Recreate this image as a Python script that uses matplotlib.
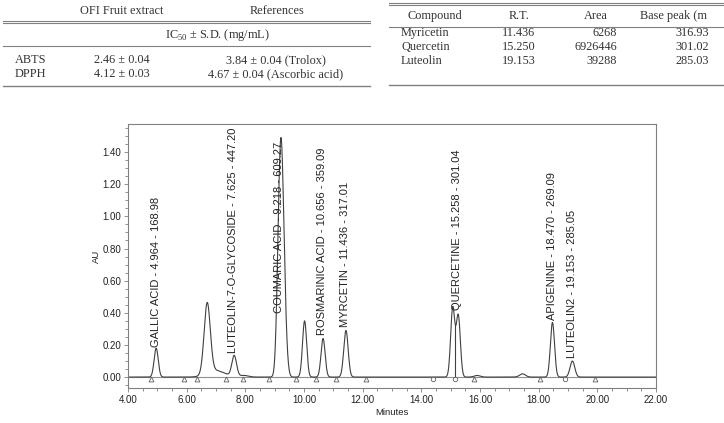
import numpy as np
import matplotlib.pyplot as plt
from matplotlib.ticker import MultipleLocator, FormatStrFormatter

plt.rcParams["mathtext.fontset"] = "custom"
plt.rcParams["mathtext.rm"] = "Liberation Serif"

# chromatogram peaks: retention time, height (AU), width (min)
PEAK_RT = [4.96, 6.70, 7.00, 7.62, 7.95, 9.12, 9.22, 9.34, 10.02, 10.65, 11.43,
           15.07, 15.26, 15.90, 17.45, 18.47, 19.15]
PEAK_H = [0.18, 0.44, 0.04, 0.13, 0.01, 0.30, 1.30, 0.25, 0.35, 0.24, 0.29,
          0.43, 0.38, 0.01, 0.02, 0.34, 0.10]
PEAK_W = [0.07, 0.105, 0.30, 0.08, 0.15, 0.07, 0.085, 0.08, 0.07, 0.07, 0.075,
          0.07, 0.07, 0.10, 0.10, 0.07, 0.08]

LABELS = ["GALLIC ACID - 4.964 - 168.98", "LUTEOLIN-7-O-GLYCOSIDE - 7.625 - 447.20",
          "COUMARIC ACID - 9.218 - 609.27", "ROSMARINIC ACID - 10.656 - 359.09",
          "MYRCETIN - 11.436 - 317.01", "QUERCETINE - 15.258 - 301.04",
          "APIGENINE - 18.470 - 269.09", "LUTEOLIN2 - 19.153 - 285.05"]
LABEL_X = [4.95, 7.58, 9.15, 10.60, 11.40, 15.23, 18.47, 19.15]
LABEL_Y = [0.19, 0.15, 0.40, 0.26, 0.31, 0.42, 0.355, 0.12]

TRI_X = [4.77, 5.92, 6.35, 7.34, 7.92, 8.81, 9.73, 10.41, 11.08, 12.10, 15.79, 18.06, 19.92]
CIRC_X = [14.39, 15.15, 18.90]
DROP_X = [15.16]

# antioxidant table
ASSAYS = ["ABTS", "DPPH"]
EXTRACT = ["2.46 \u00b1 0.04", "4.12 \u00b1 0.03"]
REFS = ["3.84 \u00b1 0.04 (Trolox)", "4.67 \u00b1 0.04 (Ascorbic acid)"]

# LC-MS table (last header is cut at the page edge in the source)
HEADERS = ["Compound", "R.T.", "Area", "Base peak (m"]
COMPOUNDS = ["Myricetin", "Quercetin", "Luteolin"]
RT = ["11.436", "15.250", "19.153"]
AREA = ["6268", "6926446", "39288"]
BASE = ["316.93", "301.02", "285.03"]

fig = plt.figure(figsize=(7.24, 4.23), dpi=100)

# tables drawn on a full-figure pixel canvas
bg = fig.add_axes([0, 0, 1, 1])
bg.set_xlim(0, 724)
bg.set_ylim(423, 0)
bg.axis("off")
serif = dict(family="Liberation Serif", fontsize=8.8, color="#333333", va="center")
lc = "#808080"
for y in (21, 23):
    bg.plot([3, 370], [y, y], color=lc, lw=0.8)
bg.plot([3, 370], [46, 46], color=lc, lw=0.8)
bg.plot([3, 370], [86, 86], color=lc, lw=1.0)
bg.text(122, 11, "OFI Fruit extract", ha="center", **serif)
bg.text(277, 11, "References", ha="center", **serif)
bg.text(217, 35, "IC$_{50}$ \u00b1 S.D. (mg/mL)", ha="center", **serif)
for i, y in enumerate([60, 74]):
    bg.text(15, y, ASSAYS[i], ha="left", **serif)
    bg.text(122, y, EXTRACT[i], ha="center", **serif)
    bg.text(276, y, REFS[i], ha="center", **serif)

for y in (3, 5):
    bg.plot([389, 724], [y, y], color=lc, lw=0.8)
bg.plot([389, 724], [27, 27], color=lc, lw=0.8)
bg.plot([389, 724], [85, 85], color=lc, lw=1.0)
bg.text(435, 16, HEADERS[0], ha="center", **serif)
bg.text(519, 16, HEADERS[1], ha="center", **serif)
bg.text(596, 16, HEADERS[2], ha="center", **serif)
bg.text(640, 16, HEADERS[3], ha="left", **serif)
for i, y in enumerate([33, 47, 61]):
    bg.text(401, y, COMPOUNDS[i], ha="left", **serif)
    bg.text(519, y, RT[i], ha="center", **serif)
    bg.text(617, y, AREA[i], ha="right", **serif)
    bg.text(692, y, BASE[i], ha="center", **serif)

# chromatogram
ax = fig.add_axes([128 / 724, 1 - 388 / 423, 528 / 724, 264 / 423])
t = np.linspace(4, 22, 3000)
trace = np.zeros_like(t)
for rt, h, w in zip(PEAK_RT, PEAK_H, PEAK_W):
    trace += h * np.exp(-0.5 * ((t - rt) / w) ** 2)
ax.axhline(0, color="#909090", lw=0.8)
ax.plot(t, trace, color="#404040", lw=0.8)
for x in DROP_X:
    ax.plot([x, x], [0, np.interp(x, t, trace)], color="#404040", lw=0.8)
ax.plot(TRI_X, [-0.012] * len(TRI_X), ls="none", marker="^", ms=3.5,
        mfc="white", mec="#606060", mew=0.6)
ax.plot(CIRC_X, [-0.012] * len(CIRC_X), ls="none", marker="o", ms=3.2,
        mfc="white", mec="#606060", mew=0.6)

for lab, x, y in zip(LABELS, LABEL_X, LABEL_Y):
    ax.text(x, y, lab, rotation=90, ha="center", va="bottom",
            family="Liberation Sans", fontsize=8, color="#222222")

ax.set_xlim(4, 22)
ax.set_ylim(-0.068, 1.575)
ax.xaxis.set_major_locator(MultipleLocator(2))
ax.xaxis.set_minor_locator(MultipleLocator(0.5))
ax.yaxis.set_major_locator(MultipleLocator(0.2))
ax.yaxis.set_minor_locator(MultipleLocator(0.05))
ax.set_yticks([v / 10 for v in range(0, 15, 2)])
ax.xaxis.set_major_formatter(FormatStrFormatter("%.2f"))
ax.yaxis.set_major_formatter(FormatStrFormatter("%.2f"))
for s in ax.spines.values():
    s.set_color("#808080")
    s.set_linewidth(0.8)
ax.tick_params(which="both", colors="#808080", labelcolor="#222222",
               labelsize=7, width=0.6)
ax.tick_params(which="major", length=3, pad=2)
ax.tick_params(which="minor", length=2)
for lbl in ax.get_xticklabels() + ax.get_yticklabels():
    lbl.set_family("Liberation Sans")
ax.set_xlabel("Minutes", family="Liberation Sans", fontsize=6.8, color="#222222")
ax.xaxis.set_label_coords(0.5, -0.075)
ax.set_ylabel("AU", family="Liberation Sans", fontsize=6.8, color="#222222")
ax.yaxis.set_label_coords(-0.052, 0.5)

fig.savefig("out.png", dpi=100)
